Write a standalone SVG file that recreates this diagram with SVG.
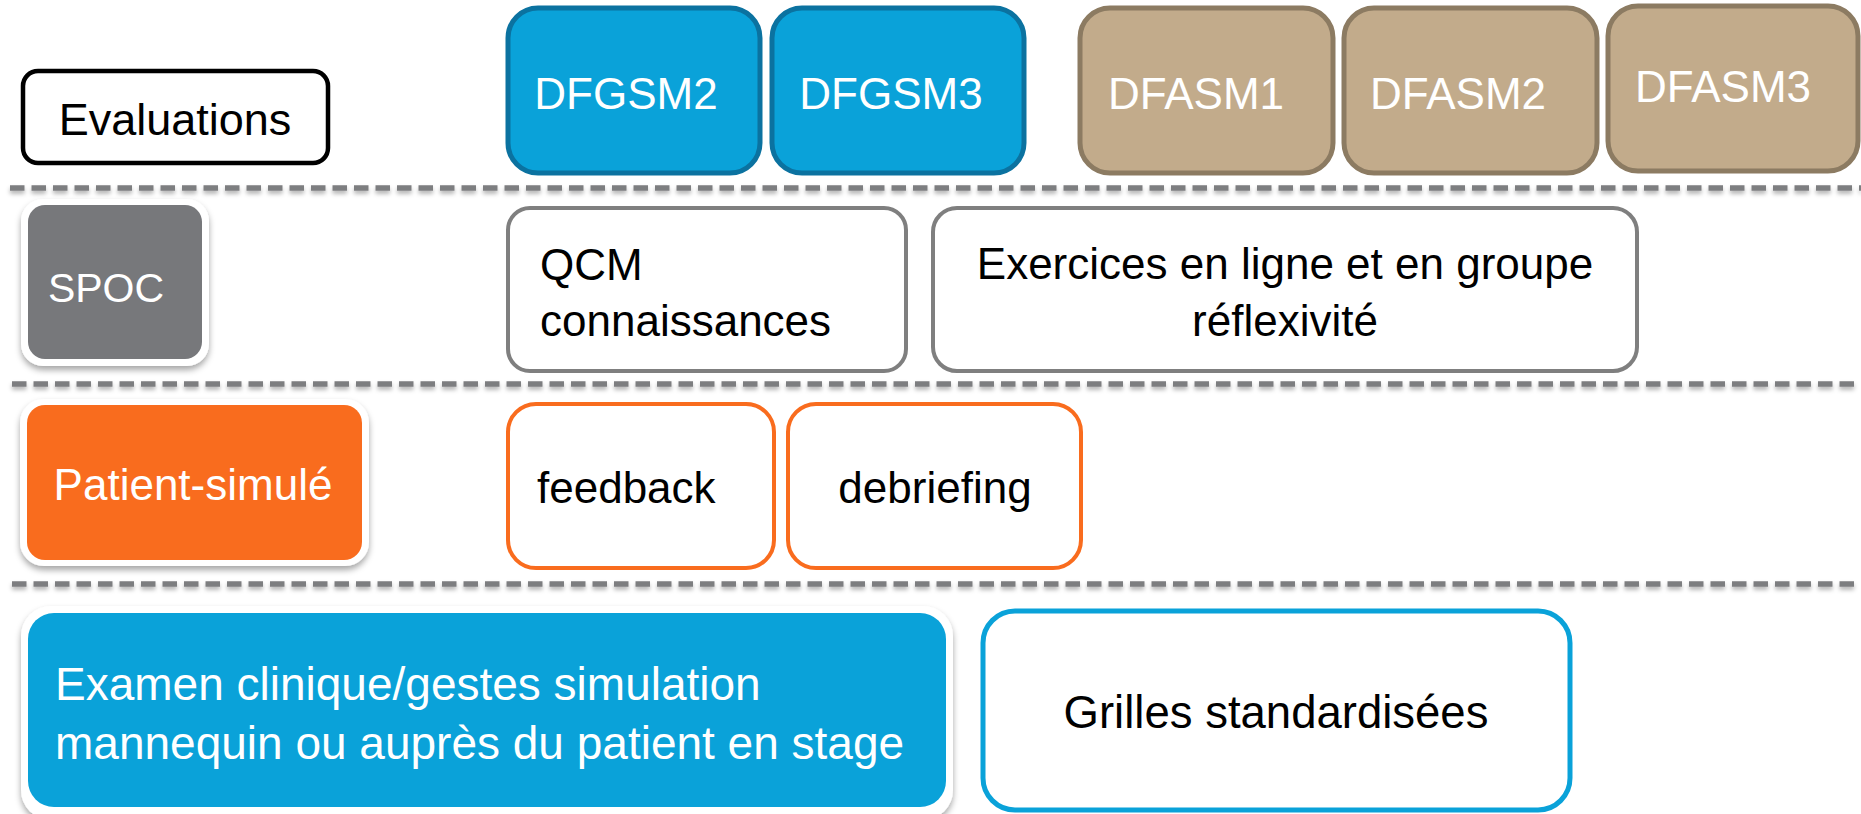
<svg xmlns="http://www.w3.org/2000/svg" width="1861" height="814" viewBox="0 0 1861 814">
<defs>
<style>
.t{font-family:"Liberation Sans",Arial,sans-serif;font-size:44px}
.w{fill:#ffffff}
.k{fill:#000000}
.blue{fill:#0aa2d9;stroke:#0b72a0;stroke-width:5}
.tan{fill:#c2ab8b;stroke:#8c7b62;stroke-width:5}
.grayo{fill:#ffffff;stroke:#7f7f7f;stroke-width:4}
.orno{fill:#ffffff;stroke:#f96c1e;stroke-width:4}
.halo{fill:#ffffff}
.dash{stroke:#7d7e80;stroke-width:5.5;stroke-dasharray:14.5 7;fill:none}
</style>
<filter id="sh" x="-10%" y="-10%" width="130%" height="140%">
<feDropShadow dx="0" dy="4" stdDeviation="3" flood-color="#000" flood-opacity="0.35"/>
</filter>
<filter id="lsh" filterUnits="userSpaceOnUse" x="0" y="0" width="1861" height="814">
<feDropShadow dx="0" dy="3" stdDeviation="2" flood-color="#000" flood-opacity="0.3"/>
</filter>
</defs>

<g id="separators" filter="url(#lsh)">
<line class="dash" x1="10" y1="188" x2="1861" y2="188"/>
<line class="dash" x1="12" y1="384" x2="1861" y2="384"/>
<line class="dash" x1="12" y1="584" x2="1861" y2="584"/>
</g>

<g id="evaluations">
<rect x="23" y="71" width="305" height="92" rx="15" fill="#ffffff" stroke="#000" stroke-width="4.5"/>
<text class="t k" x="175" y="135" text-anchor="middle" style="font-size:45px">Evaluations</text>
</g>

<g id="dfgsm2">
<rect class="blue" x="508" y="8" width="252" height="165" rx="30"/>
<text class="t w" x="626" y="109" text-anchor="middle">DFGSM2</text>
</g>
<g id="dfgsm3">
<rect class="blue" x="772" y="8" width="252" height="165" rx="30"/>
<text class="t w" x="891" y="109" text-anchor="middle">DFGSM3</text>
</g>
<g id="dfasm1">
<rect class="tan" x="1080" y="8" width="253" height="165" rx="30"/>
<text class="t w" x="1196" y="109" text-anchor="middle">DFASM1</text>
</g>
<g id="dfasm2">
<rect class="tan" x="1344" y="8" width="253" height="165" rx="30"/>
<text class="t w" x="1458" y="109" text-anchor="middle">DFASM2</text>
</g>
<g id="dfasm3">
<rect class="tan" x="1608" y="6" width="250" height="165" rx="30"/>
<text class="t w" x="1723" y="102" text-anchor="middle">DFASM3</text>
</g>

<g id="spoc">
<rect class="halo" x="21" y="199" width="188" height="167" rx="22" filter="url(#sh)"/>
<rect x="28" y="205" width="174" height="154" rx="17" fill="#77787b"/>
<text class="t w" x="106" y="302" text-anchor="middle" style="font-size:41px">SPOC</text>
</g>

<g id="qcm">
<rect class="grayo" x="508" y="208" width="398" height="163" rx="22"/>
<text class="t k" x="540" y="280">QCM</text>
<text class="t k" x="540" y="336">connaissances</text>
</g>

<g id="exercices">
<rect class="grayo" x="933" y="208" width="704" height="163" rx="24"/>
<text class="t k" x="1285" y="279" text-anchor="middle">Exercices en ligne et en groupe</text>
<text class="t k" x="1285" y="336" text-anchor="middle">réflexivité</text>
</g>

<g id="patient-simule">
<rect class="halo" x="20" y="399" width="349" height="167" rx="24" filter="url(#sh)"/>
<rect x="27" y="405" width="335" height="155" rx="18" fill="#f96c1e"/>
<text class="t w" x="193" y="500" text-anchor="middle">Patient-simulé</text>
</g>

<g id="feedback">
<rect class="orno" x="508" y="404" width="266" height="164" rx="28"/>
<text class="t k" x="537" y="503">feedback</text>
</g>

<g id="debriefing">
<rect class="orno" x="788" y="404" width="293" height="164" rx="28"/>
<text class="t k" x="935" y="503" text-anchor="middle">debriefing</text>
</g>

<g id="examen">
<rect class="halo" x="21" y="606" width="932" height="214" rx="30" filter="url(#sh)"/>
<rect x="28" y="613" width="918" height="194" rx="26" fill="#0aa2d9"/>
<text class="t w" x="55" y="700" style="font-size:46px">Examen clinique/gestes simulation</text>
<text class="t w" x="55" y="759" style="font-size:46px">mannequin ou auprès du patient en stage</text>
</g>

<g id="grilles">
<rect x="983" y="611" width="587" height="199" rx="32" fill="#ffffff" stroke="#0aa2d9" stroke-width="5"/>
<text class="t k" x="1276" y="728" text-anchor="middle" style="font-size:45.5px">Grilles standardisées</text>
</g>
</svg>
